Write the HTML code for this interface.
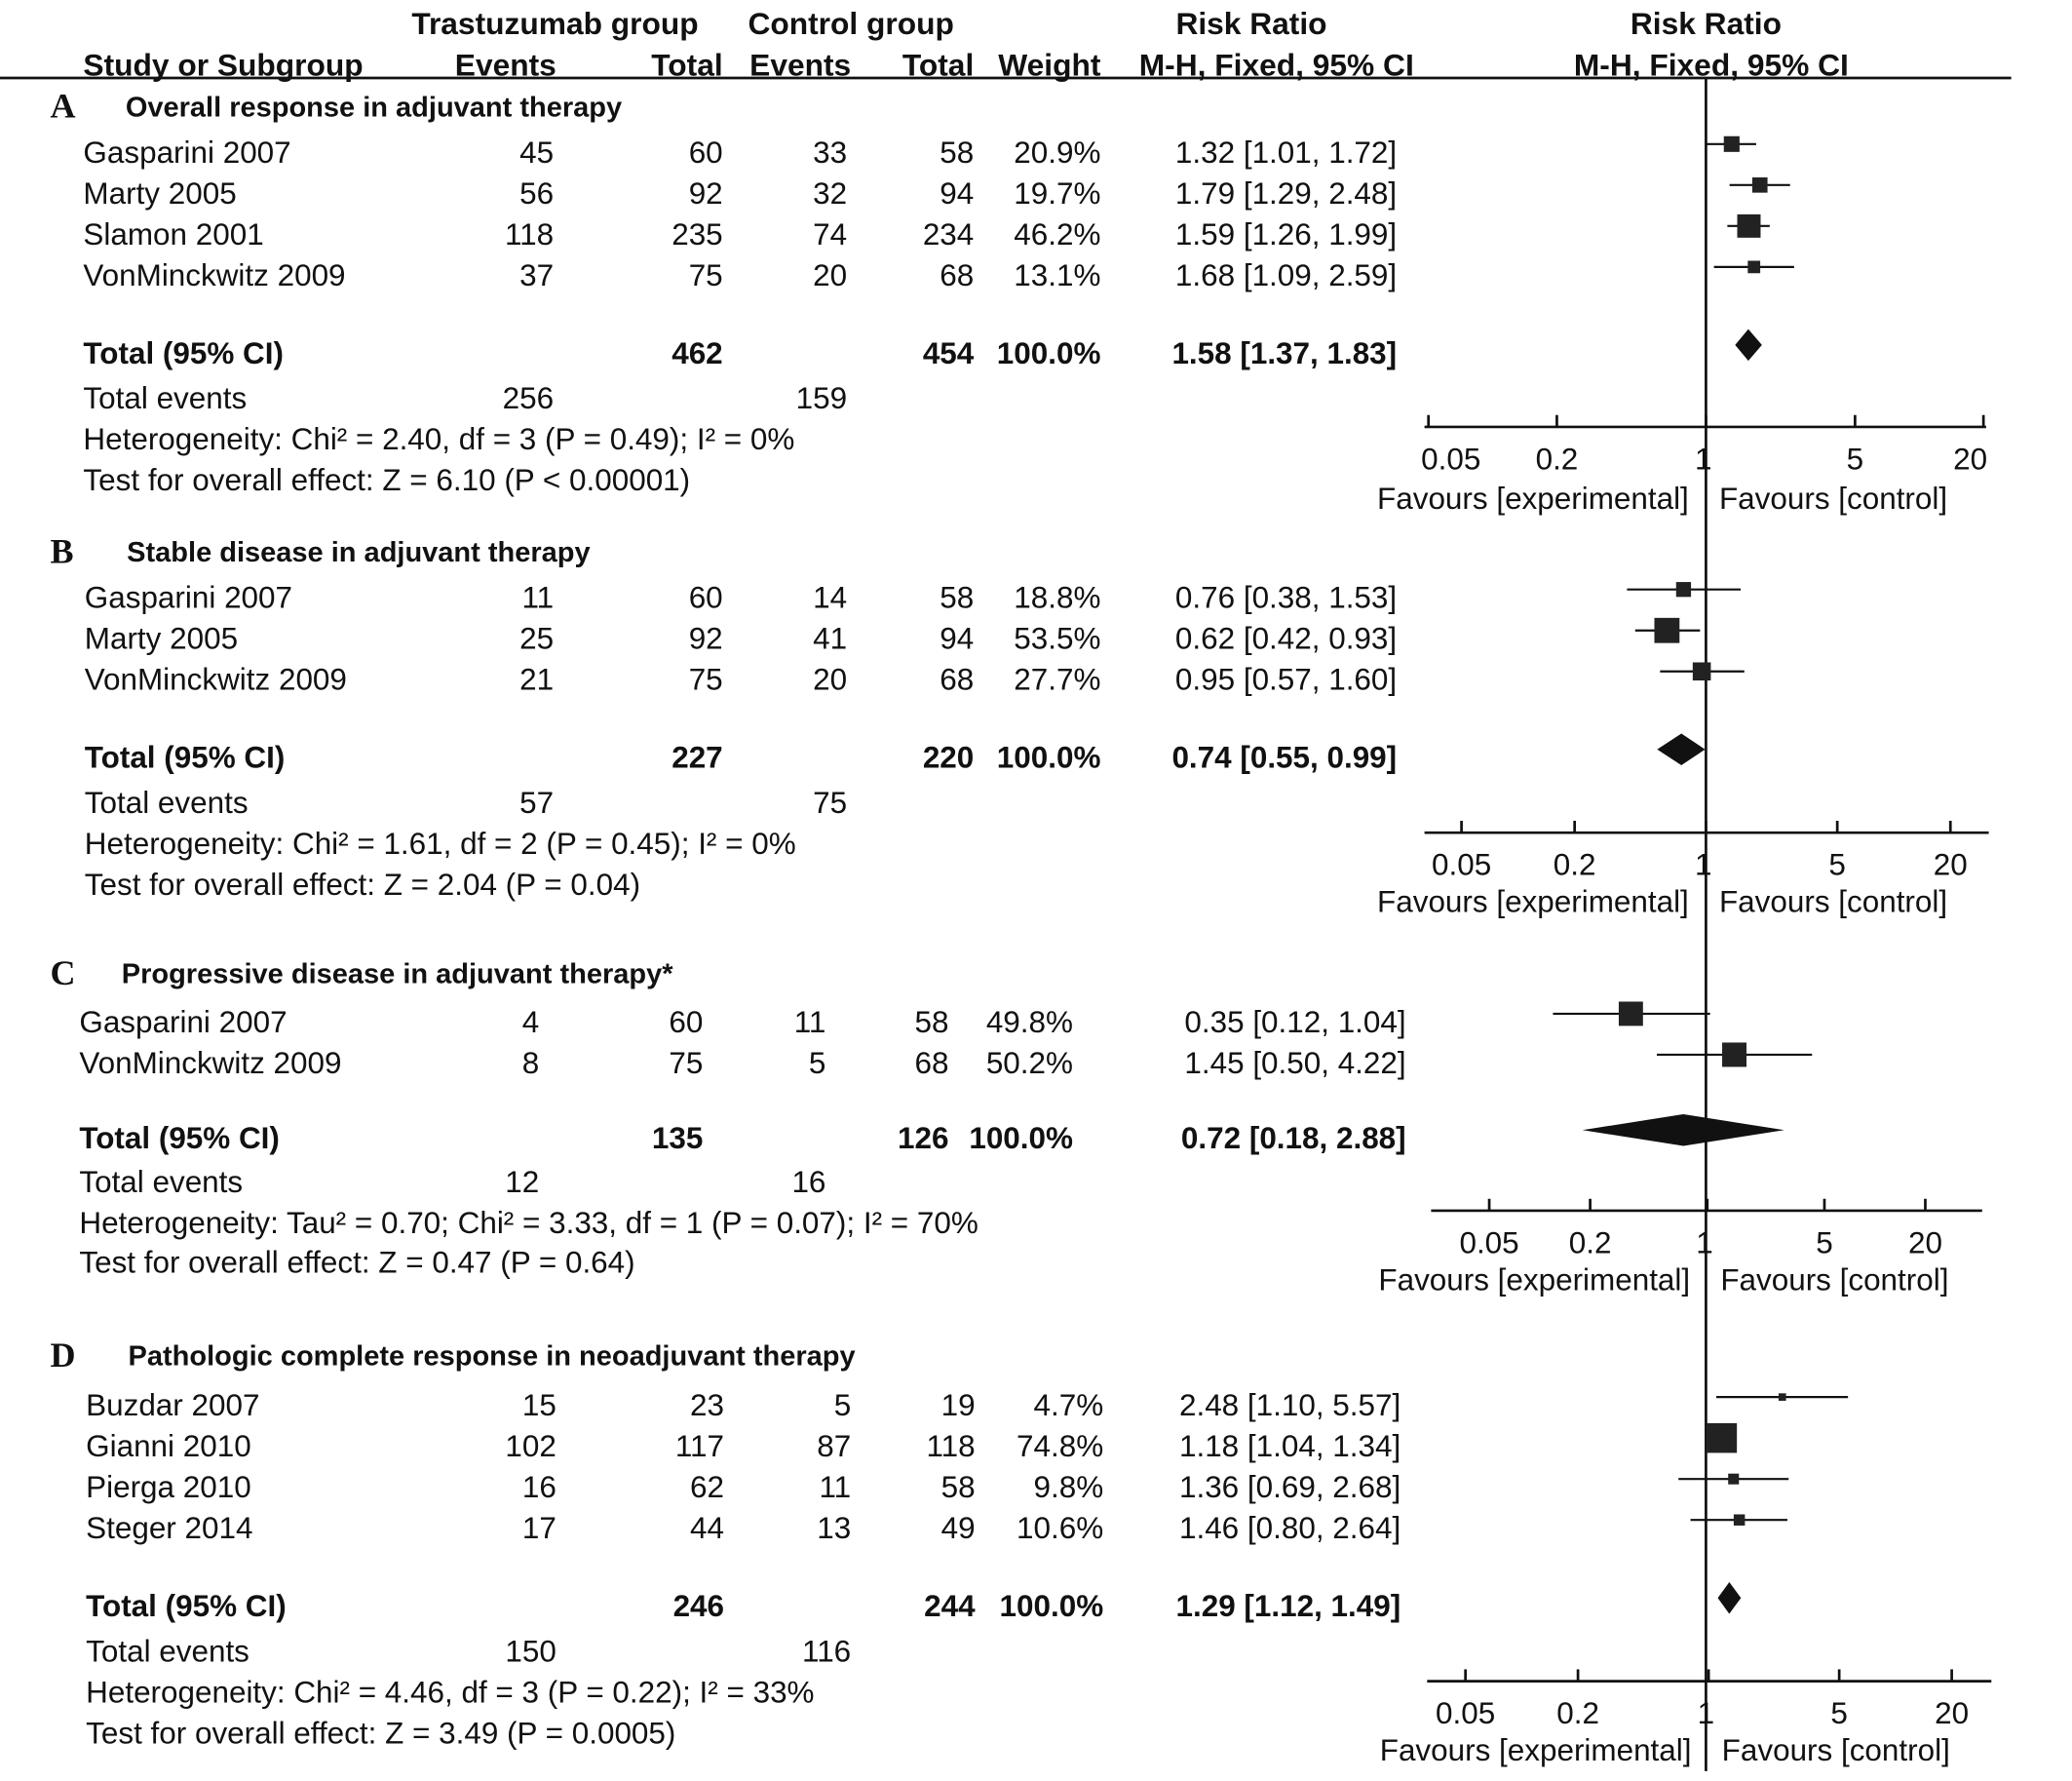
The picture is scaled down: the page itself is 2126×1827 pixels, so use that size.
<!DOCTYPE html>
<html><head><meta charset="utf-8">
<style>
html,body{margin:0;padding:0;background:#fff;}
svg{display:block;}
text{font-family:"Liberation Sans",Arial,sans-serif;fill:#111;}
</style></head>
<body>
<svg id="chart" width="2126" height="1827" viewBox="0 0 1568 1347.5" xmlns="http://www.w3.org/2000/svg">
<g font-size="23.4">
<text x="420" y="26" text-anchor="middle" font-weight="bold">Trastuzumab group</text>
<text x="644" y="26" text-anchor="middle" font-weight="bold">Control group</text>
<text x="947" y="26" text-anchor="middle" font-weight="bold">Risk Ratio</text>
<text x="1291" y="26" text-anchor="middle" font-weight="bold">Risk Ratio</text>
<text x="63" y="57" font-weight="bold">Study or Subgroup</text>
<text x="421" y="57" text-anchor="end" font-weight="bold">Events</text>
<text x="547" y="57" text-anchor="end" font-weight="bold">Total</text>
<text x="644" y="57" text-anchor="end" font-weight="bold">Events</text>
<text x="737" y="57" text-anchor="end" font-weight="bold">Total</text>
<text x="833" y="57" text-anchor="end" font-weight="bold">Weight</text>
<text x="966" y="57" text-anchor="middle" font-weight="bold">M-H, Fixed, 95% CI</text>
<text x="1295" y="57" text-anchor="middle" font-weight="bold">M-H, Fixed, 95% CI</text>
</g>
<line x1="0" y1="59" x2="1522" y2="59" stroke="#111" stroke-width="2"/>
<line x1="1291" y1="59" x2="1291" y2="1340" stroke="#111" stroke-width="2"/>
<g id="root"></g>
</svg>
<script>
// Panel A
const studiesA=["Gasparini 2007","Marty 2005","Slamon 2001","VonMinckwitz 2009"];
const evTA=[45,56,118,37], totTA=[60,92,235,75], evCA=[33,32,74,20], totCA=[58,94,234,68];
const wA=[20.9,19.7,46.2,13.1];
const rrA=[1.32,1.79,1.59,1.68], loA=[1.01,1.29,1.26,1.09], hiA=[1.72,2.48,1.99,2.59];
const totalA=[1.58,1.37,1.83], sumA=[462,454,256,159];
// Panel B
const studiesB=["Gasparini 2007","Marty 2005","VonMinckwitz 2009"];
const evTB=[11,25,21], totTB=[60,92,75], evCB=[14,41,20], totCB=[58,94,68];
const wB=[18.8,53.5,27.7];
const rrB=[0.76,0.62,0.95], loB=[0.38,0.42,0.57], hiB=[1.53,0.93,1.60];
const totalB=[0.74,0.55,0.99], sumB=[227,220,57,75];
// Panel C
const studiesC=["Gasparini 2007","VonMinckwitz 2009"];
const evTC=[4,8], totTC=[60,75], evCC=[11,5], totCC=[58,68];
const wC=[49.8,50.2];
const rrC=[0.35,1.45], loC=[0.12,0.50], hiC=[1.04,4.22];
const totalC=[0.72,0.18,2.88], sumC=[135,126,12,16];
// Panel D
const studiesD=["Buzdar 2007","Gianni 2010","Pierga 2010","Steger 2014"];
const evTD=[15,102,16,17], totTD=[23,117,62,44], evCD=[5,87,11,13], totCD=[19,118,58,49];
const wD=[4.7,74.8,9.8,10.6];
const rrD=[2.48,1.18,1.36,1.46], loD=[1.10,1.04,0.69,0.80], hiD=[5.57,1.34,2.68,2.64];
const totalD=[1.29,1.12,1.49], sumD=[246,244,150,116];
const ticks=[0.05,0.2,1,5,20];
const tickLabels=["0.05","0.2","1","5","20"];

const NS="http://www.w3.org/2000/svg";
const root=document.getElementById('root');
function mk(tag,attrs,parent,txt){const e=document.createElementNS(NS,tag);for(const k in attrs)e.setAttribute(k,attrs[k]);if(txt!==undefined)e.textContent=txt;(parent||root).appendChild(e);return e;}
function fmt2(v){return v.toFixed(2);}

const panels=[
 {L:"A",title:"Overall response in adjuvant therapy",titleY:81,rowY:[115,146,177,208],totY:267,evY:301,hetY:332,testY:363,axisY:323,favY:377,cx:1291,half:210,ax:[1078,1503],
  cols:[63,419,547,641,737,833,1057],st:studiesA,et:evTA,tt:totTA,ec:evCA,tc:totCA,w:wA,rr:rrA,lo:loA,hi:hiA,tot:totalA,sum:sumA,
  het:"Heterogeneity: Chi² = 2.40, df = 3 (P = 0.49); I² = 0%",test:"Test for overall effect: Z = 6.10 (P < 0.00001)"},
 {L:"B",title:"Stable disease in adjuvant therapy",titleY:418,rowY:[452,483,514],totY:573,evY:607,hetY:638,testY:669,axisY:630,favY:682,cx:1291,half:185,ax:[1078,1505],
  cols:[64,419,547,641,737,833,1057],st:studiesB,et:evTB,tt:totTB,ec:evCB,tc:totCB,w:wB,rr:rrB,lo:loB,hi:hiB,tot:totalB,sum:sumB,
  het:"Heterogeneity: Chi² = 1.61, df = 2 (P = 0.45); I² = 0%",test:"Test for overall effect: Z = 2.04 (P = 0.04)"},
 {L:"C",title:"Progressive disease in adjuvant therapy*",titleY:737,rowY:[773,804],totY:861,evY:894,hetY:925,testY:955,axisY:916,favY:968,cx:1292,half:165,ax:[1083,1500],
  cols:[60,408,532,625,718,812,1064],st:studiesC,et:evTC,tt:totTC,ec:evCC,tc:totCC,w:wC,rr:rrC,lo:loC,hi:hiC,tot:totalC,sum:sumC,
  het:"Heterogeneity: Tau² = 0.70; Chi² = 3.33, df = 1 (P = 0.07); I² = 70%",test:"Test for overall effect: Z = 0.47 (P = 0.64)"},
 {L:"D",title:"Pathologic complete response in neoadjuvant therapy",titleY:1026,rowY:[1063,1094,1125,1156],totY:1215,evY:1249,hetY:1280,testY:1311,axisY:1272,favY:1324,cx:1293,half:184,ax:[1080,1507],
  cols:[65,421,548,644,738,835,1060],st:studiesD,et:evTD,tt:totTD,ec:evCD,tc:totCD,w:wD,rr:rrD,lo:loD,hi:hiD,tot:totalD,sum:sumD,
  het:"Heterogeneity: Chi² = 4.46, df = 3 (P = 0.22); I² = 33%",test:"Test for overall effect: Z = 3.49 (P = 0.0005)"}
];

panels.forEach((p,pi)=>{
  const g=mk('g',{'font-size':'23.2'});
  
  
  const xs=v=>p.cx+Math.log10(v)/Math.log10(20)*p.half;
  const c=p.cols;
  let t=mk('text',{x:38,y:p.titleY+8,style:'font-family:"Liberation Serif",serif;font-weight:bold;font-size:26.6px'},g,p.L);
  
  
  t=mk('text',{x:c[0]+32,y:p.titleY+7,'font-weight':'bold','font-size':'21.4'},g,p.title);
  
  
  p.st.forEach((s,i)=>{
    const y=p.rowY[i]+8;
    const vals=[s,p.et[i],p.tt[i],p.ec[i],p.tc[i],p.w[i].toFixed(1)+"%",fmt2(p.rr[i])+" ["+fmt2(p.lo[i])+", "+fmt2(p.hi[i])+"]"];
    vals.forEach((v,j)=>{
      const e=mk('text',{x:c[j],y:y,'text-anchor':j===0?'start':'end'},g,String(v));
      
      
    });
    const yy=p.rowY[i]-6;
    const ci=mk('line',{x1:xs(p.lo[i]),x2:xs(p.hi[i]),y1:yy,y2:yy,stroke:'#111','stroke-width':1.6},g);
    
    
    const sz=2.6*Math.sqrt(p.w[i]);
    const sq=mk('rect',{x:xs(p.rr[i])-sz/2,y:yy-sz/2,width:sz,height:sz,fill:'#222'},g);
    
    
  });
  const ty=p.totY+8;
  const tv=["Total (95% CI)","",p.sum[0],"",p.sum[1],"100.0%",fmt2(p.tot[0])+" ["+fmt2(p.tot[1])+", "+fmt2(p.tot[2])+"]"];
  tv.forEach((v,j)=>{ if(v==="")return;
    const e=mk('text',{x:c[j],y:ty,'text-anchor':j===0?'start':'end','font-weight':'bold'},g,String(v));
    
    
  });
  const dy=p.totY-6;
  const dm=mk('polygon',{points:`${xs(p.tot[1])},${dy} ${xs(p.tot[0])},${dy-12} ${xs(p.tot[2])},${dy} ${xs(p.tot[0])},${dy+12}`,fill:'#111'},g);
  
  
  [["Total events",c[0]],[p.sum[2],c[1]],[p.sum[3],c[3]]].forEach((a,j)=>{
    const e=mk('text',{x:a[1],y:p.evY+8,'text-anchor':j===0?'start':'end'},g,String(a[0]));
    
    
  });
  t=mk('text',{x:c[0],y:p.hetY+8},g,p.het);
  
  
  t=mk('text',{x:c[0],y:p.testY+8},g,p.test);
  
  
  const ax=mk('line',{x1:p.ax[0],x2:p.ax[1],y1:p.axisY,y2:p.axisY,stroke:'#111','stroke-width':2},g);
  
  
  ticks.forEach((tk,i)=>{
    const x=xs(tk);
    const l=mk('line',{x1:x,x2:x,y1:p.axisY-9,y2:p.axisY,stroke:'#111','stroke-width':2},g);
    
    
    let lx=i===2?x-2:x;
    lx=Math.min(Math.max(lx,p.ax[0]+20),p.ax[1]-12);
    const e=mk('text',{x:lx,y:p.axisY+32,'text-anchor':'middle'},g,tickLabels[i]);
    
    
  });
  t=mk('text',{x:p.cx-13,y:p.favY+8,'text-anchor':'end'},g,"Favours [experimental]");
  
  
  t=mk('text',{x:p.cx+10,y:p.favY+8},g,"Favours [control]");
  
  
});
</script>
</body></html>
